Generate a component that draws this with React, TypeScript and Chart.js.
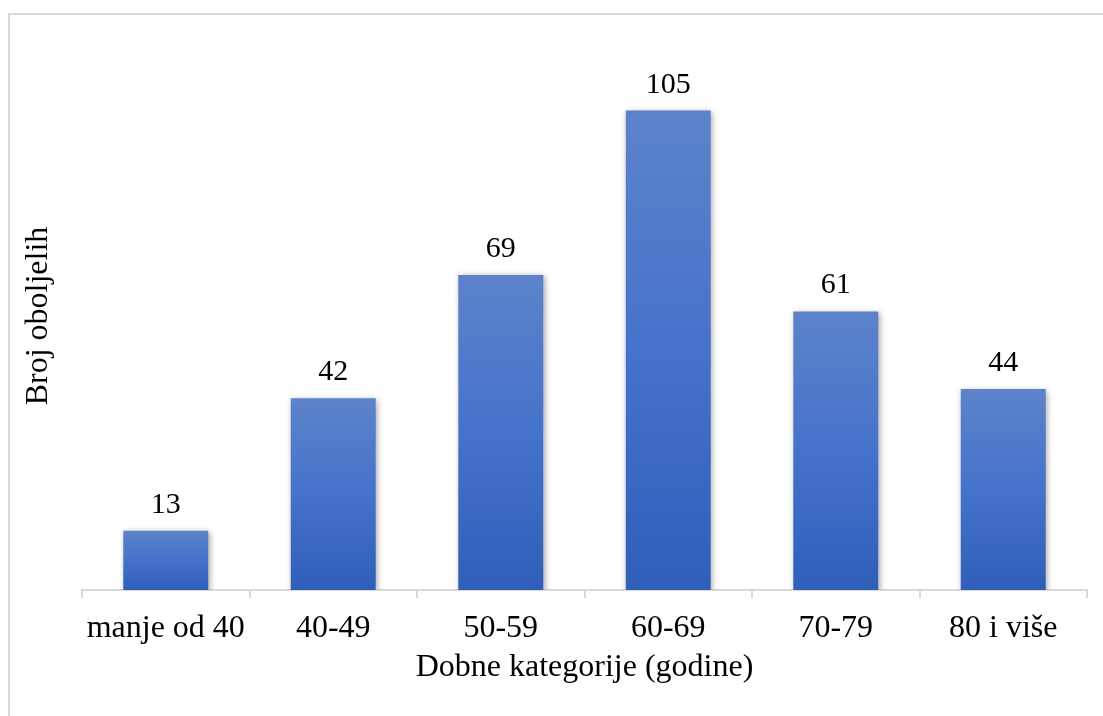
import React, { useEffect, useRef } from "react";
import { Chart, registerables } from "chart.js";

Chart.register(...registerables);

const categories = ["manje od 40", "40-49", "50-59", "60-69", "70-79", "80 i više"];
const counts = [13, 42, 69, 105, 61, 44];
const xTitle = "Dobne kategorije (godine)";
const yTitle = "Broj oboljelih";

const FONT = '"Liberation Serif", "Times New Roman", serif';

const barShadow = {
  id: "barShadow",
  beforeDatasetDraw(chart: any) {
    const ctx = chart.ctx;
    ctx.save();
    ctx.shadowColor = "rgba(0,0,0,0.35)";
    ctx.shadowBlur = 6;
    ctx.shadowOffsetX = 1.5;
    ctx.shadowOffsetY = 1.5;
  },
  afterDatasetDraw(chart: any) {
    chart.ctx.restore();
  },
};

const valueLabels = {
  id: "valueLabels",
  afterDatasetsDraw(chart: any) {
    const ctx = chart.ctx;
    const meta = chart.getDatasetMeta(0);
    ctx.save();
    ctx.font = `30px ${FONT}`;
    ctx.fillStyle = "#000";
    ctx.textAlign = "center";
    ctx.textBaseline = "alphabetic";
    meta.data.forEach((el: any, i: number) => {
      ctx.fillText(String(counts[i]), el.x, el.y - 18);
    });
    ctx.restore();
  },
};

export default function App() {
  const ref = useRef<HTMLCanvasElement>(null);

  useEffect(() => {
    if (!ref.current) return;
    const chart = new Chart(ref.current, {
      type: "bar",
      data: {
        labels: categories,
        datasets: [
          {
            data: counts,
            backgroundColor: (c: any) => {
              const ch = c.chart;
              const area = ch.chartArea;
              const ys = ch.scales?.y;
              if (!area || !ys || c.parsed == null) return "#4472C4";
              const top = ys.getPixelForValue(c.parsed.y);
              const bottom = ys.getPixelForValue(0);
              if (!isFinite(top) || !isFinite(bottom) || top === bottom) return "#4472C4";
              const g = ch.ctx.createLinearGradient(0, top, 0, bottom);
              g.addColorStop(0, "#5C83CA");
              g.addColorStop(0.5, "#4572CB");
              g.addColorStop(1, "#2F5FB9");
              return g;
            },
            borderWidth: 0,
            categoryPercentage: 1,
            barPercentage: 0.507,
          },
        ],
      },
      options: {
        responsive: false,
        animation: false,
        layout: { padding: { top: 42, right: 16, bottom: 0, left: 0 } },
        plugins: {
          legend: { display: false },
          tooltip: { enabled: false },
        },
        scales: {
          x: {
            grid: {
              display: true,
              drawOnChartArea: false,
              drawTicks: true,
              tickLength: 8,
              color: "#d9d9d9",
              lineWidth: 2,
            },
            border: { display: true, color: "#d9d9d9", width: 2 },
            ticks: {
              color: "#000",
              font: { family: FONT, size: 32 },
              padding: 11,
              maxRotation: 0,
            },
            title: {
              display: true,
              text: xTitle,
              color: "#000",
              font: { family: FONT, size: 32 },
              padding: { top: 4, bottom: 29 },
            },
            afterFit: (s: any) => {
              s.height = 126;
            },
          },
          y: {
            min: 0,
            max: 120,
            grid: { display: false },
            border: { display: false },
            ticks: { display: false },
            title: {
              display: true,
              text: yTitle,
              color: "#000",
              font: { family: FONT, size: 32 },
              padding: { top: 19, bottom: 0 },
            },
            afterFit: (s: any) => {
              s.width = 82;
            },
          },
        },
      },
      plugins: [barShadow, valueLabels],
    });
    return () => chart.destroy();
  }, []);

  return (
    <div style={{ position: "absolute", left: 0, top: 0, width: 1103, height: 716, background: "#fff", overflow: "hidden" }}>
      <div
        style={{
          position: "absolute",
          left: 8,
          top: 13,
          width: 1103,
          height: 716,
          borderTop: "2px solid #d9d9d9",
          borderLeft: "2px solid #d9d9d9",
        }}
      />
      <canvas ref={ref} width={1103} height={716} style={{ position: "absolute", left: 0, top: 0, display: "block" }} />
    </div>
  );
}
